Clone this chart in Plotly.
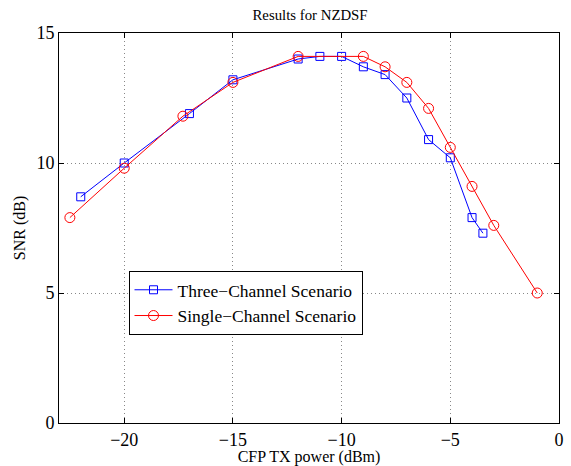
import plotly.graph_objects as go

# Data
three_x = [-22, -20, -17, -15, -12, -11, -10, -9, -8, -7, -6, -5, -4, -3.5]
three_y = [8.7, 10.0, 11.9, 13.2, 14.0, 14.1, 14.1, 13.7, 13.4, 12.5, 10.9, 10.2, 7.9, 7.3]
single_x = [-22.5, -20, -17.3, -15, -12, -9, -8, -7, -6, -5, -4, -3, -1]
single_y = [7.9, 9.8, 11.8, 13.1, 14.1, 14.1, 13.7, 13.1, 12.1, 10.6, 9.1, 7.6, 5.0]
x_ticks = [-20, -15, -10, -5, 0]
y_ticks = [0, 5, 10, 15]

FONT = "Liberation Serif"

fig = go.Figure()
fig.add_trace(go.Scatter(
    x=three_x, y=three_y, mode="lines+markers", name="Three\u2212Channel Scenario",
    line=dict(color="#0000ff", width=1),
    marker=dict(symbol="square-open", size=8, color="#0000ff", line=dict(width=1, color="#0000ff")),
))
fig.add_trace(go.Scatter(
    x=single_x, y=single_y, mode="lines+markers", name="Single\u2212Channel Scenario",
    line=dict(color="#ff0000", width=1),
    marker=dict(symbol="circle-open", size=10, color="#ff0000", line=dict(width=1, color="#ff0000")),
))

axis_common = dict(
    showline=True, linecolor="black", linewidth=1, mirror="ticks",
    ticks="inside", ticklen=5, tickcolor="black",
    showgrid=True, gridcolor="#888888", griddash="1px,3px", gridwidth=1,
    zeroline=False, automargin=False,
    tickfont=dict(family=FONT, size=18, color="black"),
)

fig.update_layout(
    width=571, height=466,
    margin=dict(l=59, r=12, t=33, b=43),
    paper_bgcolor="white", plot_bgcolor="white",
    font=dict(family=FONT, color="black"),
    title=dict(text="Results for NZDSF", x=0.543, xanchor="center", y=0.968, yanchor="middle",
               font=dict(family=FONT, size=14.8, color="black")),
    xaxis=dict(range=[-23, 0], tickvals=x_ticks,
               title=dict(text="CFP TX power (dBm)", font=dict(family=FONT, size=16), standoff=0),
               **axis_common),
    yaxis=dict(range=[0, 15], tickvals=y_ticks,
               title=dict(text="SNR (dB)", font=dict(family=FONT, size=16), standoff=6),
               **axis_common),
    legend=dict(x=0.139, y=0.39, xanchor="left", yanchor="top",
                bgcolor="white", bordercolor="black", borderwidth=1,
                font=dict(family=FONT, size=17.5, color="black"),
                tracegroupgap=0, itemwidth=38),
    showlegend=True,
)

fig.write_html("out.html", config={"displayModeBar": False},
               post_script="document.body.style.margin='0';document.body.style.padding='0';")
